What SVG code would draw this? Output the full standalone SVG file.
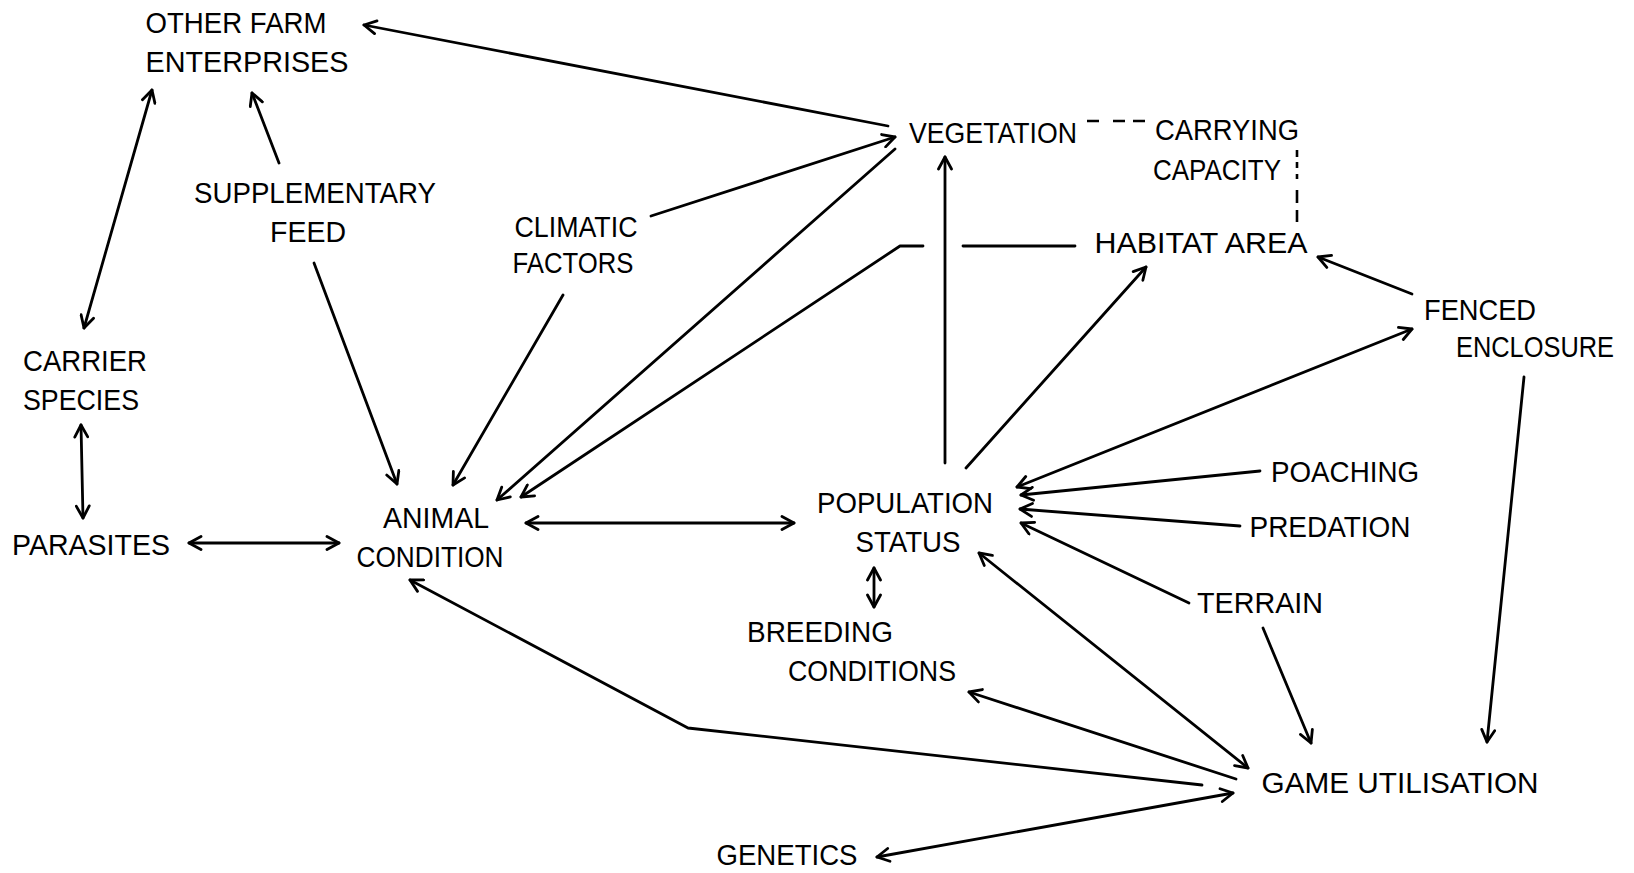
<svg xmlns="http://www.w3.org/2000/svg" width="1634" height="873" viewBox="0 0 1634 873">
<style>
text{font-family:"Liberation Sans",Arial,sans-serif;font-size:29px;fill:#000;text-anchor:middle}
.c{fill:none;stroke:#000;stroke-width:2.8;stroke-linecap:round;stroke-linejoin:round}
.e{marker-end:url(#ah)}
.b{marker-start:url(#ah);marker-end:url(#ah)}
.d{fill:none;stroke:#000;stroke-width:2.6}
</style>
<defs>
<marker id="ah" viewBox="0 0 16 16" refX="14" refY="8" markerWidth="16" markerHeight="16" markerUnits="userSpaceOnUse" orient="auto-start-reverse">
<path d="M2,1.5 L14,8 L2,14.5" fill="none" stroke="#000" stroke-width="2.8" stroke-linecap="round" stroke-linejoin="round"/>
</marker>
</defs>
<rect width="1634" height="873" fill="#fff"/>
<g id="connectors">
<path class="c e" d="M888,126 L364,25"/>
<path class="c e" d="M279,163 L252,93"/>
<path class="c b" d="M152,90 L84,328"/>
<path class="c b" d="M81,425 L83,518"/>
<path class="c b" d="M189,543 L339,543"/>
<path class="c e" d="M314,263 L397,484"/>
<path class="c e" d="M563,295 L453,485"/>
<path class="c e" d="M651,216 L895,137"/>
<path class="c e" d="M895,149 L497,500"/>
<path class="c" d="M1075,246 L963,246"/>
<path class="c e" d="M923,246 L900,246 L521,497"/>
<path class="c e" d="M945,463 L945,157"/>
<path class="c e" d="M966,468 L1146,267"/>
<path class="c e" d="M1412,294 L1318,257"/>
<path class="c b" d="M1017,487 L1412,329"/>
<path class="c e" d="M1260,471 L1021,495"/>
<path class="c e" d="M1240,526 L1020,509"/>
<path class="c e" d="M1189,603 L1021,523"/>
<path class="c b" d="M874,568 L874,607"/>
<path class="c b" d="M979,553 L1248,768"/>
<path class="c e" d="M1263,628 L1311,743"/>
<path class="c e" d="M1524,377 L1487,742"/>
<path class="c e" d="M1236,779 L969,692"/>
<path class="c e" d="M1202,785 L688,728 L410,580"/>
<path class="c b" d="M877,857 L1233,793"/>
<path class="c b" d="M526,523 L794,523"/>
<path class="d" d="M1087,121 H1099 M1113,121 H1125 M1133,121 H1145"/>
<path class="d" d="M1297,150 V157 M1297,162 V168 M1297,174 V179 M1297,190 V203 M1297,210 V222"/>
</g>
<g id="other-farm-enterprises"><text x="236" y="33" textLength="181" lengthAdjust="spacingAndGlyphs">OTHER FARM</text><text x="247" y="72" textLength="203" lengthAdjust="spacingAndGlyphs">ENTERPRISES</text></g>
<g id="supplementary-feed"><text x="315" y="203" textLength="242" lengthAdjust="spacingAndGlyphs">SUPPLEMENTARY</text><text x="308" y="242" textLength="76" lengthAdjust="spacingAndGlyphs">FEED</text></g>
<g id="climatic-factors"><text x="576" y="237" textLength="123" lengthAdjust="spacingAndGlyphs">CLIMATIC</text><text x="573" y="273" textLength="121" lengthAdjust="spacingAndGlyphs">FACTORS</text></g>
<g id="vegetation"><text x="993" y="143" textLength="168" lengthAdjust="spacingAndGlyphs">VEGETATION</text></g>
<g id="carrying-capacity"><text x="1227" y="140" textLength="144" lengthAdjust="spacingAndGlyphs">CARRYING</text><text x="1217" y="180" textLength="128" lengthAdjust="spacingAndGlyphs">CAPACITY</text></g>
<g id="habitat-area"><text x="1201" y="253" textLength="213" lengthAdjust="spacingAndGlyphs">HABITAT AREA</text></g>
<g id="fenced-enclosure"><text x="1480" y="320" textLength="112" lengthAdjust="spacingAndGlyphs">FENCED</text><text x="1535" y="357" textLength="158" lengthAdjust="spacingAndGlyphs">ENCLOSURE</text></g>
<g id="carrier-species"><text x="85" y="371" textLength="124" lengthAdjust="spacingAndGlyphs">CARRIER</text><text x="81" y="410" textLength="116" lengthAdjust="spacingAndGlyphs">SPECIES</text></g>
<g id="parasites"><text x="91" y="555" textLength="158" lengthAdjust="spacingAndGlyphs">PARASITES</text></g>
<g id="animal-condition"><text x="436" y="528" textLength="106" lengthAdjust="spacingAndGlyphs">ANIMAL</text><text x="430" y="567" textLength="147" lengthAdjust="spacingAndGlyphs">CONDITION</text></g>
<g id="population-status"><text x="905" y="513" textLength="176" lengthAdjust="spacingAndGlyphs">POPULATION</text><text x="908" y="552" textLength="105" lengthAdjust="spacingAndGlyphs">STATUS</text></g>
<g id="poaching"><text x="1345" y="482" textLength="148" lengthAdjust="spacingAndGlyphs">POACHING</text></g>
<g id="predation"><text x="1330" y="537" textLength="161" lengthAdjust="spacingAndGlyphs">PREDATION</text></g>
<g id="terrain"><text x="1260" y="613" textLength="126" lengthAdjust="spacingAndGlyphs">TERRAIN</text></g>
<g id="breeding-conditions"><text x="820" y="642" textLength="146" lengthAdjust="spacingAndGlyphs">BREEDING</text><text x="872" y="681" textLength="168" lengthAdjust="spacingAndGlyphs">CONDITIONS</text></g>
<g id="game-utilisation"><text x="1400" y="793" textLength="277" lengthAdjust="spacingAndGlyphs">GAME UTILISATION</text></g>
<g id="genetics"><text x="787" y="865" textLength="141" lengthAdjust="spacingAndGlyphs">GENETICS</text></g>
</svg>
